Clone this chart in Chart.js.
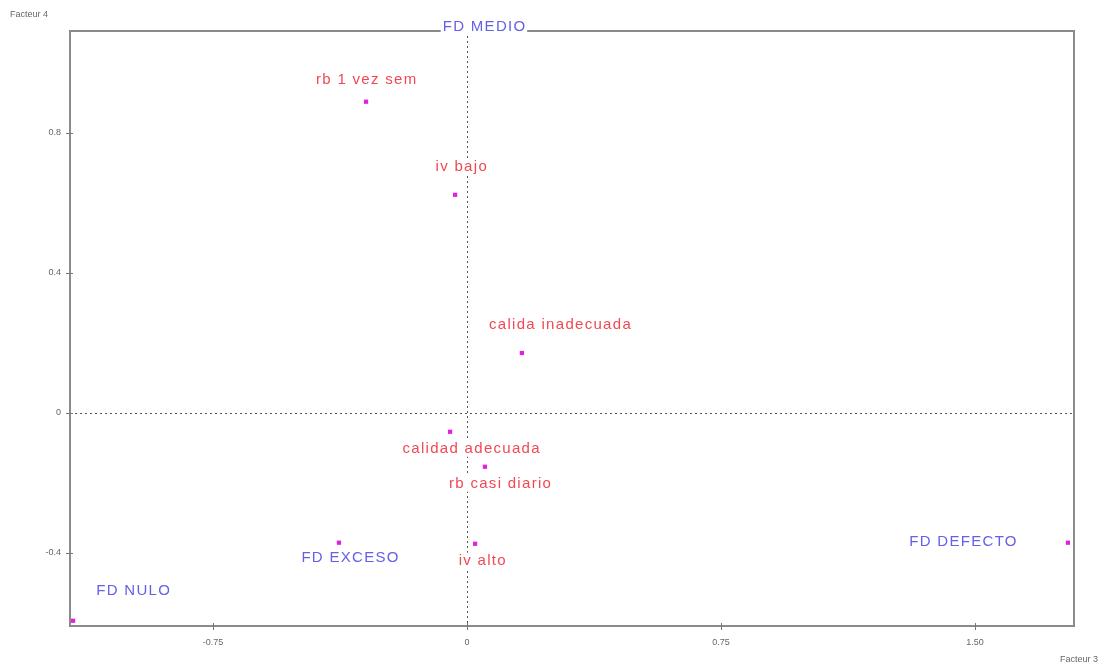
<!DOCTYPE html>
<html><head><meta charset="utf-8">
<script src="https://cdn.jsdelivr.net/npm/chart.js@4/dist/chart.umd.min.js"></script>
<style>html,body{margin:0;padding:0;background:#fff}#wrap{width:1104px;height:669px}</style>
</head><body><div id="wrap"><canvas id="c" width="1104" height="669"></canvas></div>
<script>
const names = ["rb 1 vez sem","iv bajo","calida inadecuada","calidad adecuada","rb casi diario","iv alto","FD EXCESO","FD DEFECTO","FD NULO","FD MEDIO"];
const factor3 = [-0.298,-0.035,0.162,-0.050,0.053,0.024,-0.378,1.774,-1.163,0.05];
const factor4 = [0.889,0.623,0.171,-0.054,-0.154,-0.374,-0.371,-0.371,-0.594,1.15];
const isActive = [false,false,false,false,false,false,true,true,true,true];
const xTicks = [-0.75,0,0.75,1.5];
const xTickLabels = ["-0.75","0","0.75","1.50"];
const yTicks = [-0.4,0,0.4,0.8];
const yTickLabels = ["-0.4","0","0.4","0.8"];
// label placement (pixel offsets, layout only)
const labelDX = [0,6,38,21,15,7,11,-105,60,0];
const labelDY = [-22,-28,-28,17,17,17,15,-1,-30,16.5];

const RED = "rgb(240,72,84)", BLUE = "rgb(100,96,232)", MAG = "rgb(226,32,226)";
const FONT = "'Liberation Sans', Arial, sans-serif";

const framePlugin = {
  id: 'frame',
  beforeDatasetsDraw(chart) {
    const {ctx, chartArea: a, scales: {x, y}} = chart;
    ctx.save();
    ctx.strokeStyle = "#555"; ctx.lineWidth = 1; ctx.setLineDash([2,3]);
    const x0 = Math.round(x.getPixelForValue(0)) + 0.5, y0 = Math.round(y.getPixelForValue(0)) + 0.5;
    ctx.beginPath(); ctx.moveTo(x0, a.top); ctx.lineTo(x0, a.bottom); ctx.stroke();
    ctx.beginPath(); ctx.moveTo(a.left, y0); ctx.lineTo(a.right, y0); ctx.stroke();
    ctx.setLineDash([]);
    ctx.strokeStyle = "#8a8a8a"; ctx.lineWidth = 2;
    ctx.strokeRect(a.left, a.top, a.right - a.left, a.bottom - a.top);
    ctx.strokeStyle = "#777"; ctx.lineWidth = 1;
    xTicks.forEach(v => { const p = Math.round(x.getPixelForValue(v)) + 0.5;
      ctx.beginPath(); ctx.moveTo(p, a.bottom - 3); ctx.lineTo(p, a.bottom + 4); ctx.stroke(); });
    yTicks.forEach(v => { const p = Math.round(y.getPixelForValue(v)) + 0.5;
      ctx.beginPath(); ctx.moveTo(a.left - 4, p); ctx.lineTo(a.left + 3, p); ctx.stroke(); });
    ctx.fillStyle = "#666"; ctx.font = "9px " + FONT; ctx.textBaseline = "middle";
    ctx.textAlign = "left"; ctx.fillText("Facteur 4", 10, 15);
    ctx.textAlign = "right"; ctx.fillText("Facteur 3", 1098, 660);
    ctx.restore();
  },
  afterDatasetsDraw(chart) {
    const {ctx} = chart;
    const meta = chart.getDatasetMeta(0);
    ctx.save();
    ctx.font = "15px " + FONT; ctx.letterSpacing = "1.3px";
    ctx.textAlign = "left"; ctx.textBaseline = "middle";
    meta.data.forEach((pt, i) => {
      const w = ctx.measureText(names[i]).width - 1.3;
      const lx = pt.x + labelDX[i] - w / 2, ly = pt.y + labelDY[i];
      ctx.fillStyle = "#fff";
      ctx.fillRect(lx - 2, ly - 8, w + 4, 16);
      ctx.fillStyle = isActive[i] ? BLUE : RED;
      ctx.fillText(names[i], lx, ly);
    });
    ctx.restore();
  }
};

new Chart(document.getElementById('c'), {
  type: 'scatter',
  data: { datasets: [{
    data: factor3.map((v, i) => ({x: v, y: factor4[i]})),
    pointStyle: 'rect', radius: 3, hoverRadius: 3,
    backgroundColor: MAG, borderColor: MAG, borderWidth: 0
  }]},
  options: {
    responsive: false, animation: false, devicePixelRatio: 1,
    layout: { padding: { top: 31, right: 30, left: 0, bottom: 0 } },
    plugins: { legend: { display: false }, tooltip: { enabled: false } },
    scales: {
      x: { type: 'linear', min: -1.172, max: 1.792,
        afterBuildTicks: s => { s.ticks = xTicks.map(v => ({value: v})); },
        afterFit: s => { s.height = 43; },
        grid: { display: false, drawTicks: false }, border: { display: false },
        ticks: { padding: 11, color: "#666", font: { size: 9, family: FONT },
          callback: (v) => { const k = xTicks.findIndex(t => Math.abs(t - v) < 1e-9); return k >= 0 ? xTickLabels[k] : ''; } } },
      y: { type: 'linear', min: -0.609, max: 1.091,
        afterBuildTicks: s => { s.ticks = yTicks.map(v => ({value: v})); },
        afterFit: s => { s.width = 70; },
        grid: { display: false, drawTicks: false }, border: { display: false },
        ticks: { padding: 9, color: "#666", font: { size: 9, family: FONT },
          callback: (v) => { const k = yTicks.findIndex(t => Math.abs(t - v) < 1e-9); return k >= 0 ? yTickLabels[k] : ''; } } }
    }
  },
  plugins: [framePlugin]
});
</script></body></html>
